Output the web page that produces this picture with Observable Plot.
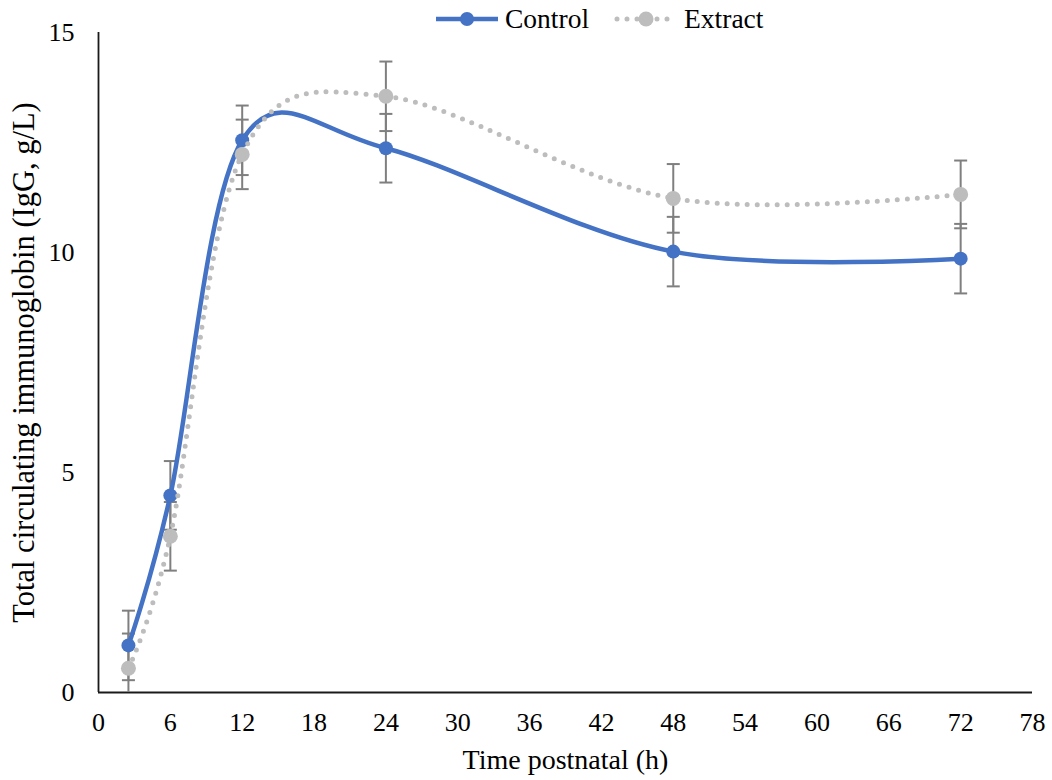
<!DOCTYPE html>
<html>
<head>
<meta charset="utf-8">
<script src="https://cdn.jsdelivr.net/npm/d3@7"></script>
<script src="https://cdn.jsdelivr.net/npm/@observablehq/plot@0.6"></script>
<style>
  body { margin: 0; background: #fff; font-family: "Liberation Serif", "Times New Roman", serif; }
  #wrap { position: relative; width: 1052px; height: 780px; }
  #legend { position: absolute; top: 0; left: 0; width: 1052px; height: 38px; display: flex; justify-content: flex-start; align-items: center; font-family: "Liberation Serif", "Times New Roman", serif; font-size: 27.5px; color: #000; padding-left: 434px; box-sizing: border-box; }
  #legend .item { display: flex; align-items: center; margin-right: 24px; }
  #legend svg { margin-right: 5px; }
  g[aria-label="x-axis label"] text { font-size: 28px; }
  g[aria-label="y-axis label"] text { font-size: 30.5px; }
  g[aria-label="x-axis tick label"] text, g[aria-label="y-axis tick label"] text { font-size: 26px; }
</style>
</head>
<body>
<div id="wrap">
  <div id="chart"></div>
  <div id="legend"></div>
</div>
<script>
const hours = [2.5, 6, 12, 24, 48, 72];
const control = [1.07, 4.48, 12.55, 12.37, 10.02, 9.86];
const controlErr = [0.79, 0.78, 0.79, 0.78, 0.79, 0.79];
const extract = [0.55, 3.55, 12.23, 13.55, 11.23, 11.32];
const extractErr = [0.79, 0.78, 0.79, 0.79, 0.78, 0.77];
const xTicks = [0, 6, 12, 18, 24, 30, 36, 42, 48, 54, 60, 66, 72, 78];
const yTicks = [0, 5, 10, 15];
const seriesNames = ["Control", "Extract"];

const blue = "#4472C4";
const gray = "#BDBDBD";
const errColor = "#7F7F7F";

const rows = (vals, errs) => hours.map((h, i) => ({h, v: vals[i], lo: Math.max(0, vals[i] - errs[i]), hi: vals[i] + errs[i]}));
const cData = rows(control, controlErr);
const eData = rows(extract, extractErr);

const capSymbol = { draw(ctx, size) { const w = 6.5; ctx.moveTo(-w, 0); ctx.lineTo(w, 0); } };

function errMarks(data) {
  return [
    Plot.ruleX(data, {x: "h", y1: "lo", y2: "hi", stroke: errColor, strokeWidth: 2}),
    Plot.dot(data.filter(d => d.v - (d.hi - d.v) >= 0), {x: "h", y: "lo", symbol: capSymbol, stroke: errColor, strokeWidth: 2, r: 4}),
    Plot.dot(data, {x: "h", y: "hi", symbol: capSymbol, stroke: errColor, strokeWidth: 2, r: 4})
  ];
}

const chart = Plot.plot({
  width: 1052,
  height: 780,
  marginLeft: 98,
  marginRight: 20,
  marginTop: 32,
  marginBottom: 88,
  style: {fontFamily: "'Liberation Serif', 'Times New Roman', serif", fontSize: "26px", color: "#000", background: "#fff"},
  x: {domain: [0, 78], ticks: xTicks, label: null},
  y: {domain: [0, 15], ticks: yTicks, label: null},
  marks: [
    Plot.axisX({ticks: xTicks, tickSize: 0, tickPadding: 20, label: "Time postnatal (h)", labelAnchor: "center", labelArrow: "none", labelOffset: 76}),
    Plot.axisY({ticks: yTicks, tickSize: 0, tickPadding: 24, label: "Total circulating immunoglobin (IgG, g/L)", labelAnchor: "center", labelArrow: "none", labelOffset: 86}),
    Plot.ruleX([0], {stroke: "#1a1a1a", strokeWidth: 1.8}),
    Plot.ruleY([0], {stroke: "#1a1a1a", strokeWidth: 1.8}),
    ...errMarks(cData),
    ...errMarks(eData),
    Plot.line(cData, {x: "h", y: "v", curve: "cardinal", stroke: blue, strokeWidth: 4.5}),
    Plot.dot(cData, {x: "h", y: "v", r: 7, fill: blue}),
    Plot.line(eData, {x: "h", y: "v", curve: "cardinal", stroke: gray, strokeWidth: 5, strokeDasharray: "0 10", strokeLinecap: "round"}),
    Plot.dot(eData, {x: "h", y: "v", r: 7.5, fill: gray})
  ]
});
document.getElementById("chart").appendChild(chart);

// legend
const legend = document.getElementById("legend");
const swatches = [
  `<svg width="66" height="20"><line x1="2" y1="10" x2="64" y2="10" stroke="${blue}" stroke-width="4.5"/><circle cx="33" cy="10" r="7" fill="${blue}"/></svg>`,
  `<svg width="66" height="20"><line x1="4" y1="10" x2="62" y2="10" stroke="${gray}" stroke-width="5" stroke-dasharray="0 10" stroke-linecap="round"/><circle cx="33" cy="10" r="7.5" fill="${gray}"/></svg>`
];
seriesNames.forEach((name, i) => {
  const item = document.createElement("div");
  item.className = "item";
  item.innerHTML = swatches[i] + `<span>${name}</span>`;
  legend.appendChild(item);
});
</script>
</body>
</html>
